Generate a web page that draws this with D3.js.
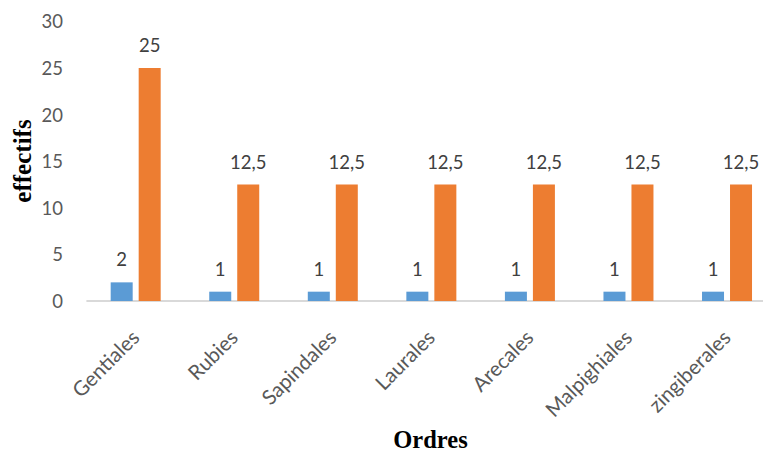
<!DOCTYPE html>
<html><head><meta charset="utf-8">
<script src="https://cdn.jsdelivr.net/npm/d3@7"></script>
<style>body{margin:0;background:#fff}svg{display:block}</style>
</head><body>
<script>
const categories = ["Gentiales","Rubies","Sapindales","Laurales","Arecales","Malpighiales","zingiberales"];
const seriesA = [2,1,1,1,1,1,1];
const seriesB = [25,12.5,12.5,12.5,12.5,12.5,12.5];
const labelsA = ["2","1","1","1","1","1","1"];
const labelsB = ["25","12,5","12,5","12,5","12,5","12,5","12,5"];
const yTicks = [0,5,10,15,20,25,30];
const colors = ["#5B9BD5","#ED7D31"];

const W=763,H=453;
const svg=d3.select("body").append("svg").attr("width",W).attr("height",H);
const x=d3.scaleBand().domain(categories).range([86.4,776.3]).paddingInner(0).paddingOuter(0);
const y=d3.scaleLinear().domain([0,30]).range([301,21.4]);
const barW=22, gap=6;
const font="Lato, 'Open Sans', sans-serif";

// y tick labels
const yAxis=d3.axisLeft(y).tickValues(yTicks).tickSize(0).tickPadding(0);
const gy=svg.append("g").attr("transform","translate(63,0)").call(yAxis);
gy.select(".domain").remove();
gy.selectAll("text").attr("font-family",font).attr("font-size",18.5).attr("fill","#595959").attr("dy","0.35em");

// baseline
svg.append("line").attr("x1",86.4).attr("x2",W).attr("y1",y(0)).attr("y2",y(0)).attr("stroke","#D9D9D9").attr("stroke-width",2);

const g=svg.append("g");
categories.forEach((c,i)=>{
  const cx=x(c)+x.bandwidth()/2;
  const vals=[seriesA[i],seriesB[i]], labs=[labelsA[i],labelsB[i]];
  vals.forEach((v,k)=>{
    const bx = k===0 ? cx-gap/2-barW : cx+gap/2;
    g.append("rect").attr("x",bx).attr("y",y(v)).attr("width",barW).attr("height",y(0)-y(v)).attr("fill",colors[k]);
    g.append("text").attr("x",bx+barW/2).attr("y",y(v)-16).attr("text-anchor","middle")
      .attr("font-family",font).attr("font-size",18.5).attr("fill","#404040").text(labs[k]);
  });
});

// x category labels
const xAxis=d3.axisBottom(x).tickSize(0).tickPadding(0);
const gx=svg.append("g").attr("transform",`translate(0,${y(0)})`).call(xAxis);
gx.select(".domain").remove();
gx.selectAll("text").attr("font-family",font).attr("font-size",20.5).attr("fill","#595959")
  .attr("text-anchor","end").attr("dy",null)
  .attr("transform","translate(5,38) rotate(-45)").attr("y",0).attr("x",0);

// axis titles
svg.append("text").attr("transform","translate(31,161) rotate(-90)").attr("text-anchor","middle")
  .attr("font-family","'Liberation Serif','Times New Roman',serif").attr("font-weight","bold").attr("font-size",25).attr("fill","#000").text("effectifs");
svg.append("text").attr("x",430.5).attr("y",448).attr("text-anchor","middle")
  .attr("font-family","'Liberation Serif','Times New Roman',serif").attr("font-weight","bold").attr("font-size",24.5).attr("fill","#000").text("Ordres");
</script>
</body></html>
